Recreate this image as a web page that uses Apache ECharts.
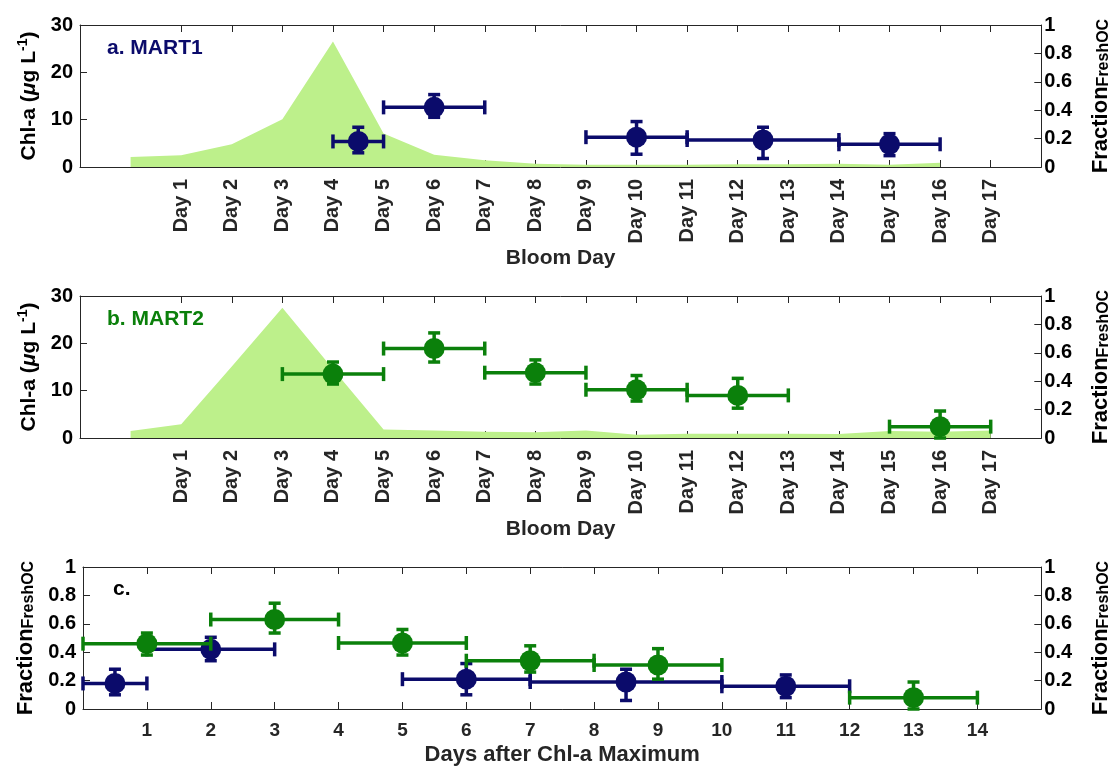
<!DOCTYPE html>
<html>
<head>
<meta charset="utf-8">
<script src="https://cdn.jsdelivr.net/npm/echarts@6/dist/echarts.min.js"></script>
<style>
html, body { margin: 0; background: #fff; }
#main { width: 1120px; height: 770px; }
</style>
</head>
<body>
<div id="main"></div>
<script>
var FONT = '"Liberation Sans", Arial, sans-serif';
var NAVY = '#0b0b6b';
var GREEN = '#0b800b';
var AREA = '#bdf08b';
var AXIS = '#262626';

// panel a: Chl-a (left axis) of MART1 per bloom day
var daysA = [0, 1, 2, 3, 4, 5, 6, 7, 8, 9, 10, 11, 12, 13, 14, 15, 16];
var chlA = [2.1, 2.5, 4.8, 10.1, 26.5, 7.1, 2.6, 1.4, 0.7, 0.5, 0.5, 0.5, 0.6, 0.6, 0.7, 0.5, 0.9];
// panel b: Chl-a of MART2
var daysB = [0, 1, 2, 3, 4, 5, 6, 7, 8, 9, 10, 11, 12, 13, 14, 15, 16, 17];
var chlB = [1.5, 2.9, 15.1, 27.5, 14.6, 1.8, 1.6, 1.3, 1.2, 1.6, 0.7, 0.9, 0.9, 0.9, 0.85, 1.5, 1.3, 1.6];

// fresh OC fraction, MART1 (bloom day)
var m1Day = [4.5, 6, 10, 12.5, 15];
var m1Frac = [0.18, 0.42, 0.21, 0.19, 0.16];
var m1DayLo = [4, 5, 9, 11, 14];
var m1DayHi = [5, 7, 11, 14, 16];
var m1FracLo = [0.10, 0.35, 0.09, 0.06, 0.08];
var m1FracHi = [0.28, 0.51, 0.32, 0.28, 0.235];

// fresh OC fraction, MART2 (bloom day)
var m2Day = [4, 6, 8, 10, 12, 16];
var m2Frac = [0.45, 0.63, 0.46, 0.34, 0.30, 0.08];
var m2DayLo = [3, 5, 7, 9, 11, 15];
var m2DayHi = [5, 7, 9, 11, 13, 17];
var m2FracLo = [0.38, 0.535, 0.38, 0.26, 0.21, 0.0];
var m2FracHi = [0.535, 0.74, 0.55, 0.44, 0.42, 0.19];

// panel c: days after Chl-a maximum
var c1Day = [0.5, 2, 6, 8.5, 11];
var c1Frac = [0.18, 0.42, 0.21, 0.19, 0.16];
var c1DayLo = [0, 1, 5, 7, 10];
var c1DayHi = [1, 3, 7, 10, 12];
var c1FracLo = [0.10, 0.34, 0.10, 0.06, 0.08];
var c1FracHi = [0.28, 0.505, 0.32, 0.28, 0.24];

var c2Day = [1, 3, 5, 7, 9, 13];
var c2Frac = [0.46, 0.63, 0.465, 0.34, 0.31, 0.08];
var c2DayLo = [0, 2, 4, 6, 8, 12];
var c2DayHi = [2, 4, 6, 8, 10, 14];
var c2FracLo = [0.38, 0.535, 0.38, 0.26, 0.21, 0.0];
var c2FracHi = [0.535, 0.745, 0.56, 0.445, 0.425, 0.19];

var dayTicks = [1, 2, 3, 4, 5, 6, 7, 8, 9, 10, 11, 12, 13, 14, 15, 16, 17];
var afterTicks = [1, 2, 3, 4, 5, 6, 7, 8, 9, 10, 11, 12, 13, 14];

var myChart = echarts.init(document.getElementById('main'));

var lineStyle = { color: AXIS, width: 1 };

function xAxes(grid, min, max, ticks, fmt, rotate, labelSize, name, nameSize, gap) {
    return [{
        type: 'value', gridIndex: grid, position: 'bottom', min: min, max: max, interval: 1,
        splitLine: { show: false },
        axisLine: { onZero: false, lineStyle: lineStyle },
        axisTick: { inside: true, length: 7, customValues: ticks, lineStyle: lineStyle },
        axisLabel: {
            customValues: ticks, formatter: fmt, rotate: rotate, margin: 12,
            color: AXIS, fontFamily: FONT, fontWeight: 'bold', fontSize: labelSize
        },
        name: name, nameLocation: 'middle', nameGap: gap,
        nameTextStyle: { color: AXIS, fontFamily: FONT, fontWeight: 'bold', fontSize: nameSize }
    }, {
        type: 'value', gridIndex: grid, position: 'top', min: min, max: max, interval: 1,
        splitLine: { show: false },
        axisLine: { onZero: false, lineStyle: lineStyle },
        axisTick: { inside: true, length: 7, customValues: ticks, lineStyle: lineStyle },
        axisLabel: { show: false }
    }];
}

var chlName = '{t|Chl-a (}{i|\u03bc}{t|g L}{s|-1}{t|)}';
var fracName = '{a|Fraction}{b|FreshOC}';
var nameRich = {
    t: { fontFamily: FONT, fontWeight: 'bold', fontSize: 21, color: '#000', lineHeight: 24, verticalAlign: 'bottom' },
    i: { fontFamily: FONT, fontWeight: 'bold', fontStyle: 'italic', fontSize: 21, color: '#000', lineHeight: 24, verticalAlign: 'bottom' },
    s: { fontFamily: FONT, fontWeight: 'bold', fontSize: 14, color: '#000', lineHeight: 14, padding: [0, 0, 10, 0], verticalAlign: 'top' },
    a: { fontFamily: FONT, fontWeight: 'bold', fontSize: 22, color: '#000', lineHeight: 22, verticalAlign: 'top' },
    b: { fontFamily: FONT, fontWeight: 'bold', fontSize: 16, color: '#000', lineHeight: 16, padding: [13, 0, 0, 0], verticalAlign: 'bottom' }
};

function yAxis(grid, pos, max, interval, name, gap, labelMargin) {
    return {
        type: 'value', gridIndex: grid, position: pos, min: 0, max: max, interval: interval,
        splitLine: { show: false },
        axisLine: { show: true, onZero: false, lineStyle: lineStyle },
        axisTick: { show: true, inside: true, length: 7, lineStyle: lineStyle },
        axisLabel: { margin: labelMargin, color: '#000', fontFamily: FONT, fontWeight: 'bold', fontSize: 20 },
        name: name, nameLocation: 'middle', nameGap: gap, nameRotate: 90,
        nameTextStyle: { rich: nameRich }
    };
}

function dayFmt(v) { return 'Day ' + v; }

function errSeries(xi, yi, color, x, y, xlo, xhi, ylo, yhi) {
    return {
        type: 'custom', xAxisIndex: xi, yAxisIndex: yi, z: 5,
        data: x.map(function (v, i) { return [v, y[i], xlo[i], xhi[i], ylo[i], yhi[i]]; }),
        encode: { x: 0, y: 1 },
        renderItem: function (params, api) {
            var c = api.coord([api.value(0), api.value(1)]);
            var l = api.coord([api.value(2), api.value(1)]);
            var r = api.coord([api.value(3), api.value(1)]);
            var lo = api.coord([api.value(0), api.value(4)]);
            var hi = api.coord([api.value(0), api.value(5)]);
            var st = { stroke: color, lineWidth: 3.5 };
            var capH = 7, capV = 6;
            return {
                type: 'group',
                children: [
                    { type: 'line', shape: { x1: l[0], y1: c[1], x2: r[0], y2: c[1] }, style: st },
                    { type: 'line', shape: { x1: l[0], y1: c[1] - capH, x2: l[0], y2: c[1] + capH }, style: st },
                    { type: 'line', shape: { x1: r[0], y1: c[1] - capH, x2: r[0], y2: c[1] + capH }, style: st },
                    { type: 'line', shape: { x1: c[0], y1: lo[1], x2: c[0], y2: hi[1] }, style: st },
                    { type: 'line', shape: { x1: c[0] - capV, y1: lo[1], x2: c[0] + capV, y2: lo[1] }, style: st },
                    { type: 'line', shape: { x1: c[0] - capV, y1: hi[1], x2: c[0] + capV, y2: hi[1] }, style: st },
                    { type: 'circle', shape: { cx: c[0], cy: c[1], r: 10.5 }, style: { fill: color } }
                ]
            };
        }
    };
}

function areaSeries(xi, yi, days, vals) {
    return {
        type: 'line', xAxisIndex: xi, yAxisIndex: yi, showSymbol: false, silent: true,
        lineStyle: { width: 0 }, areaStyle: { color: AREA, opacity: 1 },
        data: days.map(function (d, i) { return [d, vals[i]]; })
    };
}

var option = {
    animation: false,
    grid: [
        { left: 80, right: 75, top: 25, height: 142 },
        { left: 80, right: 75, top: 296, height: 142 },
        { left: 80, right: 75, top: 567, height: 142 }
    ],
    xAxis: [].concat(
        xAxes(0, -1, 18, dayTicks, dayFmt, 90, 20, 'Bloom Day', 21, 79),
        xAxes(1, -1, 18, dayTicks, dayFmt, 90, 20, 'Bloom Day', 21, 79),
        xAxes(2, 0, 15, afterTicks, '{value}', 0, 19, 'Days after Chl-a Maximum', 22, 35)
    ),
    yAxis: [
        yAxis(0, 'left', 30, 10, chlName, 33, 7),
        yAxis(0, 'right', 1, 0.2, fracName, 46, 3),
        yAxis(1, 'left', 30, 10, chlName, 33, 7),
        yAxis(1, 'right', 1, 0.2, fracName, 46, 3),
        yAxis(2, 'left', 1, 0.2, fracName, 46, 7),
        yAxis(2, 'right', 1, 0.2, fracName, 46, 3)
    ],
    graphic: [
        { type: 'text', left: 107, top: 38, style: { text: 'a. MART1', fill: NAVY, font: 'bold 21px ' + FONT } },
        { type: 'text', left: 107, top: 309, style: { text: 'b. MART2', fill: GREEN, font: 'bold 21px ' + FONT } },
        { type: 'text', left: 113, top: 579, style: { text: 'c.', fill: '#000', font: 'bold 21px ' + FONT } }
    ],
    series: [
        areaSeries(0, 0, daysA, chlA),
        errSeries(0, 1, NAVY, m1Day, m1Frac, m1DayLo, m1DayHi, m1FracLo, m1FracHi),
        areaSeries(2, 2, daysB, chlB),
        errSeries(2, 3, GREEN, m2Day, m2Frac, m2DayLo, m2DayHi, m2FracLo, m2FracHi),
        errSeries(4, 4, NAVY, c1Day, c1Frac, c1DayLo, c1DayHi, c1FracLo, c1FracHi),
        errSeries(4, 4, GREEN, c2Day, c2Frac, c2DayLo, c2DayHi, c2FracLo, c2FracHi)
    ]
};
myChart.setOption(option);
</script>
</body>
</html>
